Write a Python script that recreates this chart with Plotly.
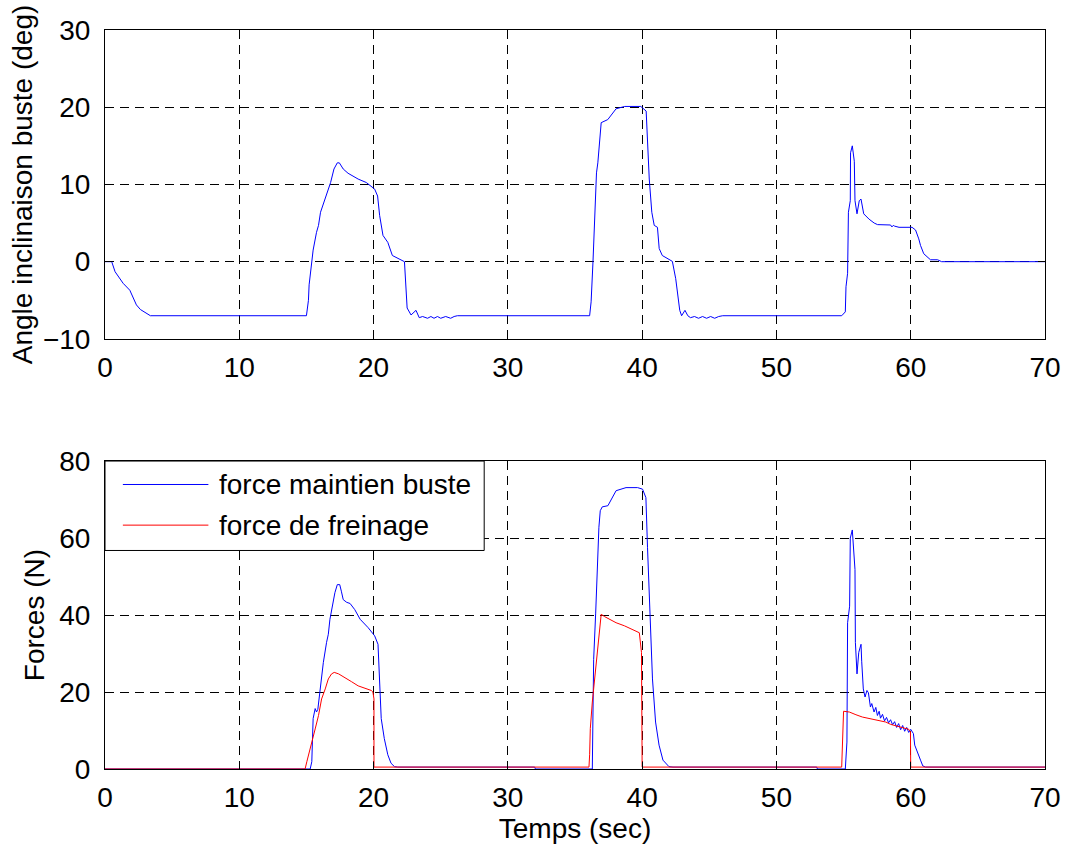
import plotly.graph_objects as go
from plotly.subplots import make_subplots

# Trunk inclination angle (deg) versus time (s)
t_angle = [0, 0.5, 0.75, 1.1, 1.35, 1.85, 2.1, 2.34, 2.64, 3.08, 3.38,
           15.0, 15.15, 15.2, 15.3, 15.5, 15.75, 15.9, 16.05, 16.3, 16.55, 16.8, 17.05, 17.3,
           17.45, 17.74, 18.1, 18.85, 19.46, 20.08, 20.3, 20.45, 20.7, 21.06, 21.4, 22.05, 22.3,
           22.5, 22.79, 23.16, 23.4, 23.65, 24.02, 24.27, 24.5, 24.76, 25.0, 25.37, 25.74, 26.0, 26.24,
           36.09, 36.2, 36.34, 36.46, 36.6, 36.7, 36.83, 36.95, 37.44, 37.7, 38.06, 38.7, 39.9,
           40.3, 40.4, 40.53, 40.72, 40.9, 41.14, 41.27, 41.5, 42.25, 42.5, 42.8, 42.94, 43.19,
           43.4, 43.6, 43.9, 44.2, 44.5, 44.8, 45.1, 45.4, 45.7, 46.0,
           54.86, 55.13, 55.18, 55.3, 55.36, 55.5, 55.52, 55.65, 55.8, 55.85, 56.0, 56.17, 56.3,
           56.4, 56.5, 56.9, 57.28, 57.53, 58.5, 58.6, 58.7, 58.8, 59.13, 60.1, 60.36, 60.6, 60.73,
           60.97, 61.47, 62.0, 62.3, 70.0]
angle = [0, 0, -1.3, -2.2, -2.8, -3.7, -4.6, -5.6, -6.2, -6.7, -7.0,
         -7.0, -5.0, -3.0, -1.5, 1.5, 3.8, 4.7, 6.4, 7.7, 9.2, 10.25, 12.0, 12.8,
         12.8, 12.0, 11.45, 10.7, 10.25, 9.4, 8.5, 6.0, 3.4, 2.5, 0.8, 0.17, 0.0,
         -6.0, -6.9, -6.3, -7.25, -7.1, -7.33, -7.1, -7.33, -7.1, -7.33, -7.1, -7.33, -7.1, -7.0,
         -7.0, -5.2, 0.0, 5.1, 11.5, 12.8, 15.8, 18.0, 18.4, 19.0, 19.8, 20.1, 20.1,
         19.5, 15.8, 10.7, 6.4, 4.7, 4.45, 1.7, 0.8, 0.04, -2.2, -6.3, -7.0, -6.3,
         -7.0, -7.25, -7.1, -7.33, -7.1, -7.33, -7.1, -7.33, -7.1, -7.0,
         -7.0, -6.5, -3.25, -1.5, 6.4, 7.9, 14.1, 15.0, 13.0, 7.9, 6.2, 7.9, 8.1,
         7.2, 6.2, 5.5, 5.0, 4.8, 4.75, 4.5, 4.7, 4.6, 4.45, 4.45, 4.1, 2.95, 2.1,
         1.03, 0.25, 0.25, 0.0, 0.0]

# Trunk holding force (N)
t_hold = [0, 15.28, 15.4, 15.5, 15.65, 15.75, 15.85, 16.0, 16.13, 16.26, 16.5, 16.63, 16.75,
          17.0, 17.12, 17.3, 17.48, 17.6, 17.74, 18.0, 18.25, 18.6, 19.0, 19.6, 20.08, 20.33,
          20.45, 20.57, 20.8, 21.06, 21.3, 21.56, 21.8, 32.0, 32.05,
          36.29, 36.34, 36.39, 36.54, 36.64, 36.78, 36.88, 37.03, 37.45, 37.7, 38.06, 38.8,
          39.66, 40.03, 40.28, 40.4, 40.57, 40.77, 41.0, 41.26, 41.55, 42.0, 42.3, 53.0, 53.05,
          55.13, 55.25, 55.3, 55.45, 55.5, 55.65, 55.75, 55.85, 55.88, 56.0, 56.13, 56.3, 56.35,
          56.47, 56.6, 56.74, 56.85, 57.0, 57.1, 57.27, 57.4, 57.52, 57.65, 57.75, 57.9, 58.05,
          58.2, 58.35, 58.5, 58.65, 58.8, 58.95, 59.1, 59.25, 59.4, 59.55, 59.7, 59.85, 60.0,
          60.2, 60.3, 60.5, 60.73, 60.9, 61.1, 70.0]
f_hold = [0, 0, 1.9, 13.1, 15.7, 14.8, 15.5, 20.0, 24.3, 27.7, 32.9, 35.0, 38.9,
          43.2, 45.8, 47.9, 47.9, 46.2, 44.0, 43.3, 43.0, 41.4, 38.9, 36.7, 34.6, 32.4,
          20.0, 13.1, 7.9, 3.7, 1.5, 0.6, 0.5, 0.5, 0.0,
          0.0, 14.8, 28.5, 40.5, 50.8, 62.8, 67.1, 68.1, 68.4, 70.1, 72.3, 73.1,
          73.1, 72.7, 70.5, 57.6, 40.5, 23.4, 12.2, 6.2, 2.3, 0.6, 0.5, 0.5, 0.0,
          0.0, 7.0, 38.0, 42.3, 60.0, 62.1, 55.3, 51.8, 32.9, 24.7, 30.3, 32.4, 28.0,
          20.8, 18.7, 20.4, 19.8, 16.1, 17.0, 14.8, 16.0, 13.9, 15.0, 13.2, 14.2, 12.5,
          13.4, 12.0, 12.8, 11.5, 12.3, 10.8, 11.8, 10.2, 11.3, 9.8, 10.8, 9.5, 10.3,
          9.2, 6.2, 4.1, 2.3, 0.8, 0.5, 0.5]

# Braking force (N)
t_brake = [0, 14.9, 15.03, 15.15, 15.28, 15.4, 15.65, 15.9, 16.13, 16.4, 16.63, 16.87, 17.07,
           17.4, 17.87, 18.35, 18.85, 19.34, 19.83, 19.95, 20.03, 20.03,
           36.04, 36.09, 36.14, 36.29, 36.46, 36.64, 36.78, 36.95, 37.2, 37.57, 38.06, 38.68,
           39.3, 39.79, 39.95, 40.0,
           54.86, 55.0, 55.43, 55.6, 55.92, 56.4, 56.78, 57.27, 57.65, 58.14, 58.5, 59.0,
           59.5, 59.86, 59.98, 60.0, 70.0]
f_brake = [0, 0, 1.9, 3.7, 5.3, 7.0, 10.4, 13.9, 18.2, 20.8, 23.4, 24.7, 25.1,
           24.7, 23.6, 22.7, 21.6, 21.0, 20.4, 20.0, 18.2, 0.5,
           0.5, 3.7, 10.5, 17.4, 23.4, 30.3, 35.4, 40.2, 39.6, 38.9, 38.0, 37.2,
           36.3, 35.4, 30.3, 0.5,
           0.5, 15.0, 14.8, 14.5, 14.1, 13.5, 13.2, 12.9, 12.4, 12.2, 11.6, 11.1,
           10.5, 10.3, 9.7, 0.5, 0.5]

legend_labels = ["force maintien buste", "force de freinage"]
BLUE, RED = "#0000ff", "#ff0000"

FONT = "Liberation Sans, Arial, sans-serif"
FS = 28

fig = make_subplots(rows=2, cols=1)

fig.add_trace(go.Scatter(x=t_angle, y=angle, mode="lines",
                         line=dict(color=BLUE, width=1), showlegend=False), row=1, col=1)
fig.add_trace(go.Scatter(x=t_hold, y=f_hold, mode="lines", name=legend_labels[0],
                         line=dict(color=BLUE, width=1), showlegend=False), row=2, col=1)
fig.add_trace(go.Scatter(x=t_brake, y=f_brake, mode="lines", name=legend_labels[1],
                         line=dict(color=RED, width=1), showlegend=False), row=2, col=1)

axis_common = dict(
    showline=True, linecolor="black", linewidth=1, mirror="ticks",
    ticks="inside", ticklen=7, tickcolor="black",
    showgrid=True, gridcolor="black", gridwidth=1, griddash="9px,6px",
    zeroline=False, tickfont=dict(family=FONT, size=FS, color="black"),
)

fig.update_xaxes(**axis_common, range=[0, 70], dtick=10, tick0=0, ticklabelstandoff=3)
fig.update_yaxes(**axis_common, ticklabelstandoff=8)

fig.update_xaxes(domain=[0, 1], row=1, col=1)
fig.update_xaxes(domain=[0, 1], row=2, col=1,
                 title=dict(text="Temps (sec)", font=dict(family=FONT, size=FS, color="black"),
                            standoff=6))
fig.update_yaxes(range=[-10, 30], dtick=10, tick0=0, domain=[0.582, 1.0], row=1, col=1,
                 title=dict(text="Angle inclinaison buste (deg)",
                            font=dict(family=FONT, size=FS, color="black"), standoff=2))
fig.update_yaxes(range=[0, 80], dtick=20, tick0=0, domain=[0.0, 0.4167], row=2, col=1,
                 title=dict(text="Forces (N)",
                            font=dict(family=FONT, size=FS, color="black"), standoff=6))

# Legend box drawn in the upper-left corner of the force panel
leg_top, leg_bottom, leg_right = 0.4167, 0.2957, 0.4034
leg_rows = [0.385, 0.330]
shapes = [dict(type="rect", xref="paper", yref="paper", x0=0, x1=leg_right,
               y0=leg_bottom, y1=leg_top, fillcolor="white",
               line=dict(color="black", width=1), layer="above")]
annotations = []
for label, color, yy in zip(legend_labels, [BLUE, RED], leg_rows):
    shapes.append(dict(type="line", xref="paper", yref="paper", x0=0.019, x1=0.110,
                       y0=yy, y1=yy, line=dict(color=color, width=1), layer="above"))
    annotations.append(dict(text=label, xref="paper", yref="paper", x=0.1193, y=yy,
                            xanchor="left", yanchor="middle", showarrow=False,
                            font=dict(family=FONT, size=FS, color="black")))

fig.update_layout(
    width=1073, height=850,
    margin=dict(l=105, r=21, t=30, b=76),
    paper_bgcolor="white", plot_bgcolor="white",
    font=dict(family=FONT, size=FS, color="black"),
    showlegend=False,
    shapes=shapes, annotations=annotations,
)

fig.write_html("out.html")
